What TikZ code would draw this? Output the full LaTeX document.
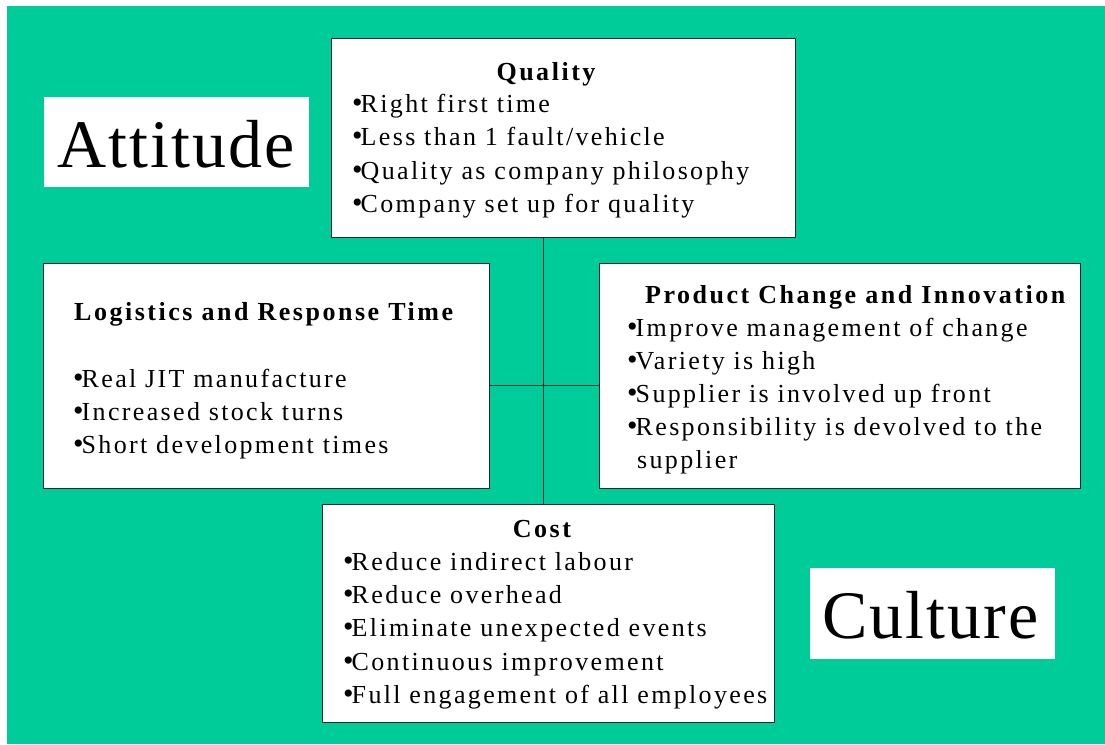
\documentclass[tikz,border=0pt]{standalone}
\usepackage{fontspec}
\setmainfont{Liberation Serif}
\newfontfamily\bodyfont[LetterSpace=9]{Liberation Serif}
\newfontfamily\headfont[LetterSpace=9.7]{Liberation Serif}
\newfontfamily\bigfont[LetterSpace=3]{Liberation Serif}
\newcommand\bul{{\fontsize{30}{33}\selectfont•}\kern-2pt}
\definecolor{teal}{RGB}{0,204,153}
\definecolor{edge}{RGB}{40,40,40}
\tikzset{
  panel/.style={draw=edge, line width=1pt, fill=white, inner sep=0pt, anchor=north west},
  wordbox/.style={fill=white, inner sep=0pt, anchor=north west},
  line/.style={anchor=base west, inner sep=0pt, font=\bodyfont\fontsize{26}{33}\selectfont},
  head/.style={anchor=base west, inner sep=0pt, font=\headfont\bfseries\fontsize{26}{33}\selectfont},
  headc/.style={anchor=base, inner sep=0pt, font=\headfont\bfseries\fontsize{26}{33}\selectfont},
  big/.style={anchor=base west, inner sep=0pt, font=\bigfont\fontsize{68}{78}\selectfont},
  link/.style={draw=edge, line width=1pt}
}
\begin{document}
\begin{tikzpicture}[x=1pt,y=-1pt]
\useasboundingbox (0,0) rectangle (1105,744);
\fill[white] (0,0) rectangle (1105,744);
\fill[teal] (7,6) rectangle (1105,744);

% boxes
\node[panel, minimum width=464pt, minimum height=199pt] (Q) at (331,38) {};
\node[panel, minimum width=446pt, minimum height=225pt] (L) at (43,263) {};
\node[panel, minimum width=481pt, minimum height=225pt] (P) at (599,263) {};
\node[panel, minimum width=452pt, minimum height=218pt] (C) at (322,504) {};
\node[wordbox, minimum width=265pt, minimum height=90pt] (A) at (44,97) {};
\node[wordbox, minimum width=245pt, minimum height=91pt] (K) at (810,568) {};

% connectors
\coordinate (hub) at (543,385);
\draw[link] (Q.south -| hub) -- (C.north -| hub);
\draw[link] (L.east |- hub) -- (P.west |- hub);

% big words
\node[big] (At) at (57,167) {Attitude};
\node[big] (Cu) at (822,638) {Culture};

% Quality
\node[headc] (Qh) at (546,80) {Quality};
\node[line] (Q1) at (352,112) {\bul Right first time};
\node[line] (Q2) at (352,145.5) {\bul Less than 1 fault/vehicle};
\node[line] (Q3) at (352,179) {\bul Quality as company philosophy};
\node[line] (Q4) at (352,212.5) {\bul Company set up for quality};

% Logistics
\node[head] (Lh) at (74,320) {Logistics and Response Time};
\node[line] (L1) at (73,387) {\bul Real JIT manufacture};
\node[line] (L2) at (73,420) {\bul Increased stock turns};
\node[line] (L3) at (73,453) {\bul Short development times};

% Product
\node[head] (Ph) at (645,303) {Product Change and Innovation};
\node[line] (P1) at (627,336) {\bul Improve management of change};
\node[line] (P2) at (627,369) {\bul Variety is high};
\node[line] (P3) at (627,402.5) {\bul Supplier is involved up front};
\node[line] (P4) at (627,435.5) {\bul Responsibility is devolved to the};
\node[line] (P5) at (637,468.5) {supplier};

% Cost
\node[headc] (Ch) at (542,537) {Cost};
\node[line] (C1) at (343,570) {\bul Reduce indirect labour};
\node[line] (C2) at (343,603) {\bul Reduce overhead};
\node[line] (C3) at (343,636) {\bul Eliminate unexpected events};
\node[line] (C4) at (343,670) {\bul Continuous improvement};
\node[line] (C5) at (343,703) {\bul Full engagement of all employees};
\end{tikzpicture}
\end{document}
